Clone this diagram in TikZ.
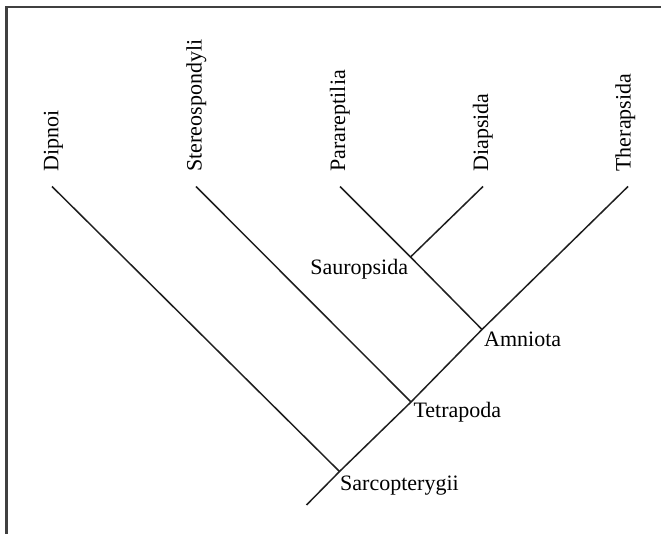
\documentclass[tikz,border=0pt]{standalone}
\usepackage{fontspec}
\setmainfont{Liberation Serif}
\begin{document}
\begin{tikzpicture}[x=1pt,y=-1pt,
  branch/.style={line width=1.5pt,color=black!88},
  leaf/.style={rotate=90,anchor=base west,inner sep=0pt,font=\fontsize{22}{26}\selectfont},
  clade/.style={inner sep=0pt,font=\fontsize{22}{26}\selectfont},
  frame/.style={line width=2.2pt,color=black!75}]
\useasboundingbox (0,0) rectangle (661,534);
% frame
\draw[frame] (6.5,534) -- (6.5,7) -- (661,7);
% leaves
\coordinate (dip) at (52,186.5);
\coordinate (ste) at (196,186.5);
\coordinate (par) at (340,186.5);
\coordinate (dia) at (483,186.5);
\coordinate (the) at (628,186.5);
% internal nodes
\coordinate (sar) at (339.5,471.5);
\coordinate (tet) at (411,402);
\coordinate (amn) at (482,329.5);
\coordinate (sau) at (410.5,257);
\coordinate (root) at (306.5,505);
% branches
\draw[branch] (root) -- (sar) -- (tet) -- (amn) -- (the);
\draw[branch] (dip) -- (sar);
\draw[branch] (ste) -- (tet);
\draw[branch] (par) -- (sau) -- (amn);
\draw[branch] (dia) -- (sau);
% leaf labels
\node[leaf] (ldip) at (58.3,171.7) {Dipnoi};
\node[leaf] (lste) at (201.7,171.7) {Stereospondyli};
\node[leaf] (lpar) at (345,171.7) {Parareptilia};
\node[leaf] (ldia) at (488,171.7) {Diapsida};
\node[leaf] (lthe) at (630.7,171.7) {Therapsida};
% clade labels
\node[clade,anchor=base east] (lsau) at (408.3,275) {Sauropsida};
\node[clade,anchor=base west] (lamn) at (484,346.7) {Amniota};
\node[clade,anchor=base west] (ltet) at (413.3,417.3) {Tetrapoda};
\node[clade,anchor=base west] (lsar) at (340,490) {Sarcopterygii};
\end{tikzpicture}
\end{document}
